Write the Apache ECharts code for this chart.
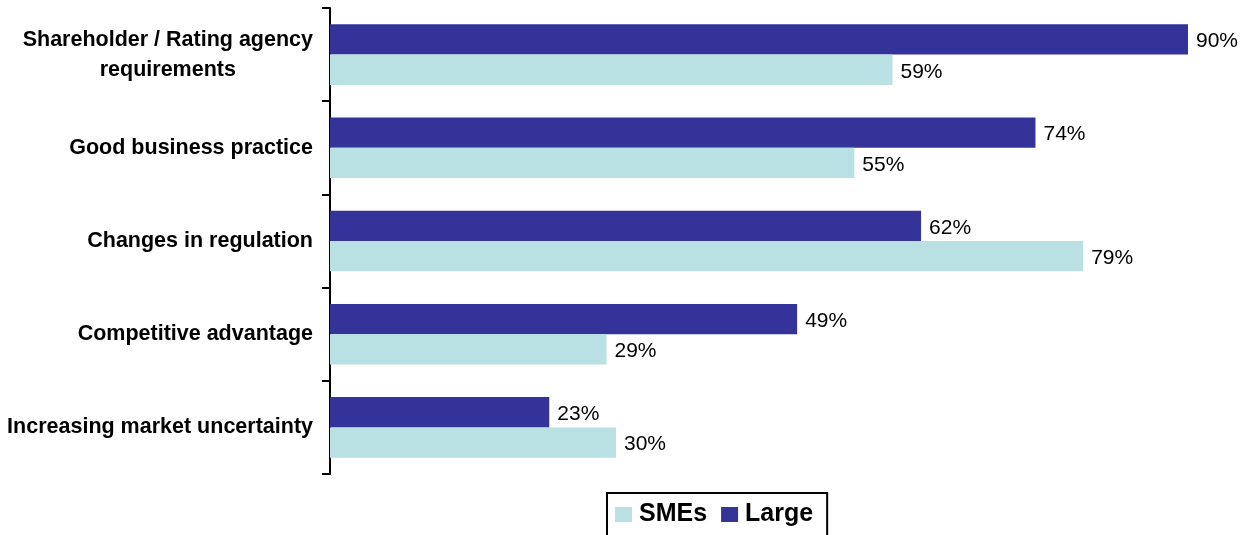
<!DOCTYPE html>
<html>
<head>
<meta charset="utf-8">
<script src="https://cdn.jsdelivr.net/npm/echarts@6/dist/echarts.min.js"></script>
<style>
  html, body { margin: 0; padding: 0; background: #ffffff; }
  #chart { width: 1245px; height: 535px; }
</style>
</head>
<body>
<div id="chart"></div>
<script>
// Drivers, top to bottom
const categories = [
  'Shareholder / Rating agency\nrequirements',
  'Good business practice',
  'Changes in regulation',
  'Competitive advantage',
  'Increasing market uncertainty'
];
// Share of respondents (%)
const largeValues = [90, 74, 62, 49, 23];
const smeValues = [59, 55, 79, 29, 30];

const DARK = '#333399';
const LIGHT = '#b9e1e3';
const FONT = '"Liberation Sans", Arial, sans-serif';

const chart = echarts.init(document.getElementById('chart'));

const valueLabel = {
  show: true,
  position: 'right',
  distance: 8,
  offset: [0, 2],
  color: '#000',
  fontFamily: FONT,
  fontSize: 21,
  formatter: p => p.value + '%'
};

chart.setOption({
  animation: false,
  backgroundColor: '#ffffff',
  grid: { left: 330, right: 57, top: 8, bottom: 61, containLabel: false },
  legend: {
    data: ['SMEs', 'Large'],
    left: 607,
    top: 493,
    orient: 'horizontal',
    icon: 'rect',
    itemWidth: 17,
    itemHeight: 15,
    itemGap: 14,
    padding: [9, 14, 20, 8],
    borderColor: '#000',
    borderWidth: 2,
    textStyle: { fontFamily: FONT, fontSize: 25, fontWeight: 'bold', color: '#000', padding: [0, 0, 0, 2] }
  },
  xAxis: {
    type: 'value',
    min: 0,
    max: 90,
    show: false
  },
  yAxis: {
    type: 'category',
    inverse: true,
    data: categories,
    axisLine: { show: true, lineStyle: { color: '#000', width: 2 } },
    axisTick: { show: true, length: 8, lineStyle: { color: '#000', width: 2 } },
    axisLabel: {
      margin: 17,
      color: '#000',
      fontFamily: FONT,
      fontSize: 21.5,
      fontWeight: 'bold',
      lineHeight: 30,
      formatter: v => v.split('\n').map(s => '{c|' + s + '}').join('\n'),
      rich: {
        c: { align: 'center', fontFamily: FONT, fontSize: 21.5, fontWeight: 'bold', color: '#000', lineHeight: 30 }
      }
    },
    splitLine: { show: false }
  },
  series: [
    {
      name: 'Large',
      type: 'bar',
      data: largeValues,
      itemStyle: { color: DARK },
      barGap: '0%',
      barCategoryGap: '35%',
      label: valueLabel
    },
    {
      name: 'SMEs',
      type: 'bar',
      data: smeValues,
      itemStyle: { color: LIGHT },
      barGap: '0%',
      barCategoryGap: '35%',
      label: valueLabel
    }
  ]
});
</script>
</body>
</html>
